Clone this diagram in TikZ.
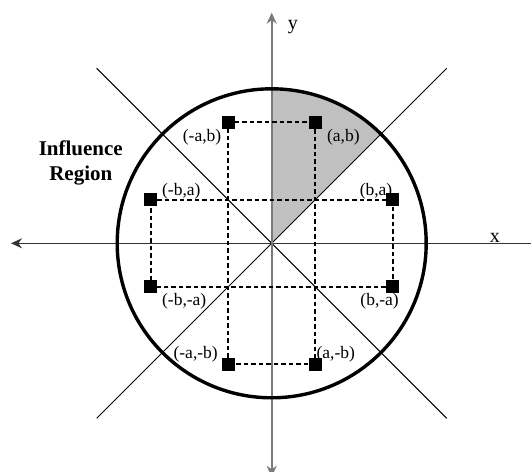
\documentclass[tikz,border=0pt]{standalone}
\usepackage{fontspec}
\setmainfont{Liberation Serif}
\usepackage{xcolor}
\usetikzlibrary{arrows.meta, positioning}
\definecolor{regionGray}{HTML}{C0C0C0}
\definecolor{axisGray}{HTML}{7A7A7A}

\begin{document}
\begin{tikzpicture}[x=1pt, y=1pt,
    pnt/.style={fill=black, inner sep=0pt, minimum size=13pt},
    lbl/.style={inner sep=0pt, font=\fontsize{17.5}{20}\selectfont},
    axlbl/.style={inner sep=0pt, font=\fontsize{20}{22}\selectfont},
    rect/.style={dash pattern=on 4.5pt off 3pt, line width=1.9pt},
    tip/.style={-{Stealth[length=11pt, width=10pt]}}]
    \useasboundingbox (-271.7,-228.7) rectangle (259.3,243.3);
    % shaded sector between y axis and diagonal
    \fill[regionGray] (0,0) -- (90:154.5pt) arc (90:45:154.5pt) -- cycle;
    % diagonals
    \draw[line width=1pt] (135:247.5pt) -- (-45:247.5pt);
    \draw[line width=1pt] (45:247.5pt) -- (-135:247.5pt);
    % axes
    \draw[tip, line width=1.6pt, black!80] (266,0) -- (-260.7,0);
    \draw[tip, line width=2.2pt, axisGray] (0,0) -- (0,230.6);
    \draw[tip, line width=2.2pt, axisGray] (0,0) -- (0,-233.5);
    \node[axlbl, anchor=base] (xl) at (223.3,1) {x};
    \node[axlbl, anchor=base] (yl) at (21.1,213.3) {y};
    % influence region
    \draw[line width=3.4pt] (0,0) circle (154.5pt);
    \node[align=center, inner sep=0pt, anchor=north,
        font=\bfseries\fontsize{21}{25}\selectfont] (infl) at (-190.9,102.6) {Influence\\Region};
    % sample points
    \node[pnt] (ab) at (43.5,121) {};
    \node[pnt] (nab) at (-43.5,121) {};
    \node[pnt] (ba) at (121,43.5) {};
    \node[pnt] (nba) at (-121,43.5) {};
    \node[pnt] (nbna) at (-121,-43.5) {};
    \node[pnt] (bna) at (121,-43.5) {};
    \node[pnt] (nanb) at (-43.5,-121) {};
    \node[pnt] (anb) at (43.5,-121) {};
    \draw[rect] (nab) -- (ab) -- (anb) -- (nanb) -- (nab);
    \draw[rect] (nba) -- (ba) -- (bna) -- (nbna) -- (nba);
    \node[lbl, below right=0pt and 5pt of ab] (l-ab) {(a,b)};
    \node[lbl, below left=0pt and 0pt of nab] (l-nab) {(-a,b)};
    \node[lbl, above left=-6.5pt and -6.5pt of ba] (l-ba) {(b,a)};
    \node[lbl, above right=-6.5pt and 4.5pt of nba] (l-nba) {(-b,a)};
    \node[lbl, below right=0pt and 4.5pt of nbna] (l-nbna) {(-b,-a)};
    \node[lbl, below left=0pt and -13pt of bna] (l-bna) {(b,-a)};
    \node[lbl, above left=-4.8pt and 3.5pt of nanb] (l-nanb) {(-a,-b)};
    \node[lbl, above right=-4.8pt and -5.5pt of anb] (l-anb) {(a,-b)};
\end{tikzpicture}
\end{document}
